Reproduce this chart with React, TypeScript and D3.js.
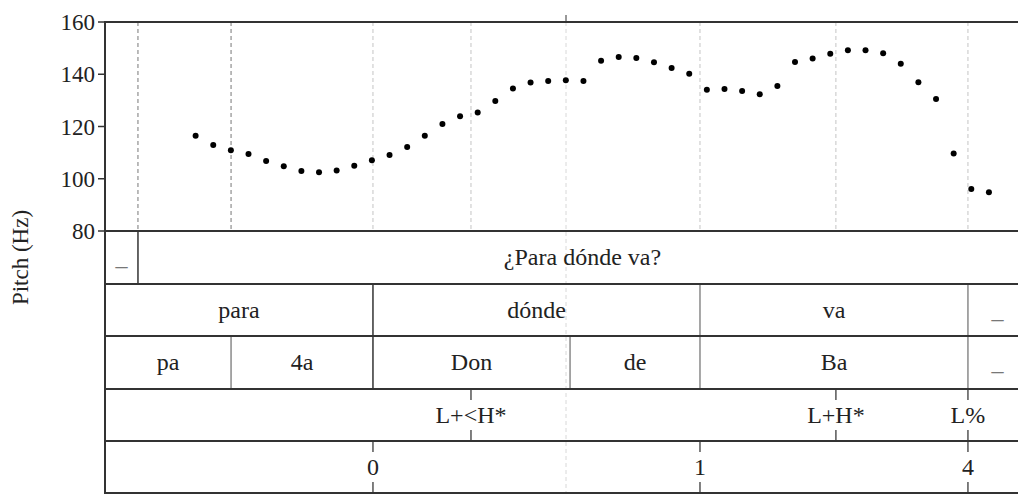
import React from "react";
import * as d3 from "d3";

// ---- Data ----
const pitchStart = 0.0514; // s, first voiced frame
const pitchStep = 0.01; // s
const pitchHz = [
  116.5, 112.9, 110.9, 109.5, 106.8, 104.8, 103.0, 102.5, 103.2, 105.0,
  107.1, 109.1, 112.2, 116.5, 121.0, 123.9, 125.4, 129.8, 134.5, 136.8,
  137.4, 137.7, 137.4, 145.2, 146.6, 146.2, 144.6, 142.4, 140.2, 134.1,
  134.4, 133.6, 132.3, 135.5, 144.7, 146.0, 147.8, 149.2, 149.2, 148.0,
  144.0, 136.9, 130.5, 109.7, 96.1, 94.8,
];
const yTicks = [80, 100, 120, 140, 160];
const totalDuration = 0.523;

const sentenceTier = [
  { start: 0, end: 0.0187, text: "_" },
  { start: 0.0187, end: 0.523, text: "¿Para dónde va?" },
];
const wordTier = [
  { start: 0, end: 0.152, text: "para" },
  { start: 0.152, end: 0.3375, text: "dónde" },
  { start: 0.3375, end: 0.4895, text: "va" },
  { start: 0.4895, end: 0.523, text: "_" },
];
const syllableTier = [
  { start: 0, end: 0.0715, text: "pa" },
  { start: 0.0715, end: 0.152, text: "4a" },
  { start: 0.152, end: 0.2638, text: "Don" },
  { start: 0.2638, end: 0.3375, text: "de" },
  { start: 0.3375, end: 0.4895, text: "Ba" },
  { start: 0.4895, end: 0.523, text: "_" },
];
const toneTier = [
  { time: 0.2076, text: "L+<H*" },
  { time: 0.4146, text: "L+H*" },
  { time: 0.4895, text: "L%" },
];
const breakTier = [
  { time: 0.152, text: "0" },
  { time: 0.3375, text: "1" },
  { time: 0.4895, text: "4" },
];
const darkMarks = [0.0187, 0.0715];
const lightMarks = [0.152, 0.2076, 0.3375, 0.4146, 0.4895];
const cursorTime = 0.2615;

export default function App() {
  const W = 1018;
  const H = 494;
  const left = 105;
  const right = 1027;
  const top = 22;
  const pitchBottom = 231;
  const tierEdges = [231, 284, 336, 389, 441, 493];

  const x = d3.scaleLinear().domain([0, totalDuration]).range([left, right]);
  const y = d3.scaleLinear().domain([80, 160]).range([pitchBottom, top]);

  const font = "'Liberation Serif', 'Times New Roman', serif";
  const fs = 23;
  const tfs = 24;

  const intervalTiers = [sentenceTier, wordTier, syllableTier];
  const pointTiers = [toneTier, breakTier];

  const boundaryColor = (t: number) =>
    Math.abs(t - 0.152) < 1e-6 || Math.abs(t - 0.0187) < 1e-6 ? "#333" : "#8a8a8a";

  return (
    <svg
      width={W}
      height={H}
      style={{ position: "absolute", left: 0, top: 0, background: "#fff" }}
      fontFamily={font}
    >
      {/* dashed marks in pitch area */}
      {darkMarks.map((t, i) => (
        <line key={"dm" + i} x1={x(t)} x2={x(t)} y1={top} y2={pitchBottom}
          stroke="#777" strokeWidth={1} strokeDasharray="4,3" />
      ))}
      {lightMarks.map((t, i) => (
        <line key={"lm" + i} x1={x(t)} x2={x(t)} y1={top} y2={pitchBottom}
          stroke="#c4c4c4" strokeWidth={1} strokeDasharray="4,3" />
      ))}
      {/* cursor */}
      <line x1={x(cursorTime)} x2={x(cursorTime)} y1={top} y2={tierEdges[5]}
        stroke="#d8d8d8" strokeWidth={1} strokeDasharray="4,3" />
      <line x1={x(cursorTime)} x2={x(cursorTime)} y1={15} y2={top}
        stroke="#333" strokeWidth={1} />

      {/* pitch points */}
      {pitchHz.map((v, i) => (
        <circle key={"p" + i} cx={x(pitchStart + i * pitchStep)} cy={y(v)} r={3} fill="#000" />
      ))}

      {/* y axis ticks */}
      {yTicks.map((v) => (
        <g key={"yt" + v}>
          <line x1={left - 7} x2={left} y1={y(v)} y2={y(v)} stroke="#333" strokeWidth={1.5} />
          <text x={left - 10} y={y(v) + 8} textAnchor="end" fontSize={fs} fill="#222">{v}</text>
        </g>
      ))}
      <text transform={`translate(28,257.5) rotate(-90)`} textAnchor="middle" fontSize={fs} fill="#222">
        Pitch (Hz)
      </text>

      {/* interval tiers */}
      {intervalTiers.map((tier, ti) => {
        const y0 = tierEdges[ti];
        const y1 = tierEdges[ti + 1];
        const cy = (y0 + y1) / 2;
        return (
          <g key={"it" + ti}>
            {tier.slice(1).map((iv, k) => (
              <line key={"b" + k} x1={x(iv.start)} x2={x(iv.start)} y1={y0} y2={y1}
                stroke={boundaryColor(iv.start)} strokeWidth={1.5} />
            ))}
            {tier.map((iv, k) => (
              <text key={"t" + k} x={(x(iv.start) + x(iv.end)) / 2} y={cy + 7.5}
                textAnchor="middle" fontSize={tfs} fill={iv.text === "_" ? "#777" : "#222"}>
                {iv.text}
              </text>
            ))}
          </g>
        );
      })}

      {/* point tiers */}
      {pointTiers.map((tier, ti) => {
        const y0 = tierEdges[ti + 3];
        const y1 = tierEdges[ti + 4];
        const cy = (y0 + y1) / 2;
        return (
          <g key={"pt" + ti}>
            {tier.map((p, k) => (
              <g key={k}>
                <line x1={x(p.time)} x2={x(p.time)} y1={y0} y2={y0 + 11} stroke="#555" strokeWidth={1.5} />
                <line x1={x(p.time)} x2={x(p.time)} y1={y1 - 11} y2={y1} stroke="#555" strokeWidth={1.5} />
                <text x={x(p.time)} y={cy + 7.5} textAnchor="middle" fontSize={tfs} fill="#222">{p.text}</text>
              </g>
            ))}
          </g>
        );
      })}

      {/* frame lines */}
      <line x1={left} x2={W + 10} y1={top} y2={top} stroke="#333" strokeWidth={2} />
      {tierEdges.map((ty, i) => (
        <line key={"h" + i} x1={left} x2={W + 10} y1={ty} y2={ty} stroke="#333" strokeWidth={2} />
      ))}
      <line x1={left} x2={left} y1={top - 1} y2={tierEdges[5] + 1} stroke="#333" strokeWidth={2} />
    </svg>
  );
}
